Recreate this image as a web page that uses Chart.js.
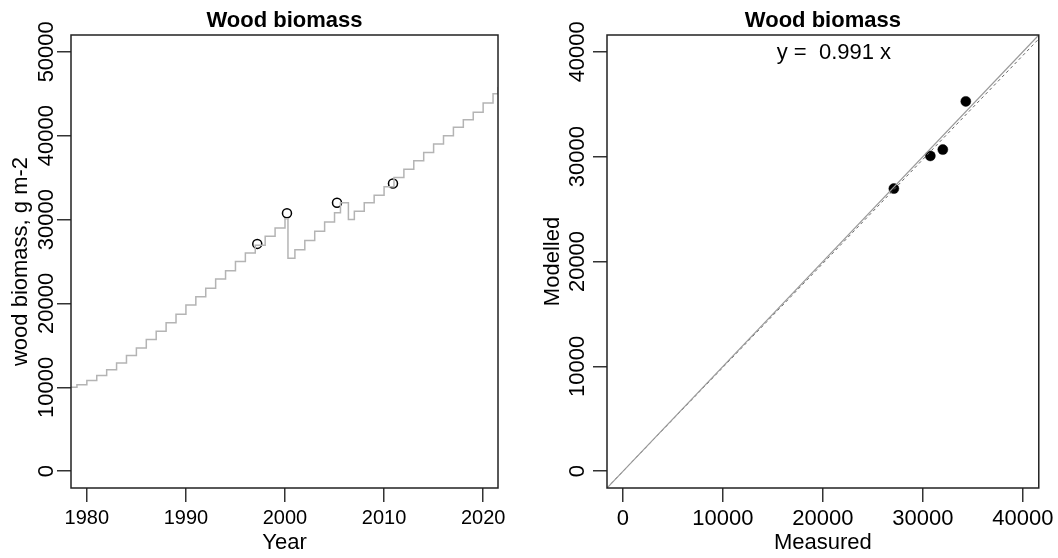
<!DOCTYPE html>
<html>
<head>
<meta charset="utf-8">
<script src="https://cdn.jsdelivr.net/npm/chart.js@4.4.1/dist/chart.umd.min.js"></script>
<style>
  body { margin: 0; background: #fff; }
  #wrap { display: flex; width: 1058px; height: 558px; }
  canvas { display: block; }
</style>
</head>
<body>
<div id="wrap">
  <canvas id="left" width="529" height="558"></canvas>
  <canvas id="right" width="529" height="558"></canvas>
</div>
<script>
'use strict';

// ---- left panel: simulated wood biomass (annual steps) ----
const years = [1978.4, 1979, 1980, 1981, 1982, 1983, 1984, 1985, 1986, 1987,
  1988, 1989, 1990, 1991, 1992, 1993, 1994, 1995, 1996, 1997, 1998, 1999,
  2000, 2000.3, 2001, 2002, 2003, 2004, 2005, 2005.6, 2006.4, 2007, 2008,
  2009, 2010, 2011, 2012, 2013, 2014, 2015, 2016, 2017, 2018, 2019, 2020,
  2021, 2021.5];
const biomass = [10000, 10300, 10800, 11400, 12100, 12900, 13800, 14700, 15700, 16700,
  17700, 18700, 19800, 20800, 21800, 22900, 23900, 25000, 26000, 26950, 28000, 29000,
  30100, 25400, 26400, 27500, 28600, 29700, 30800, 32000, 30000, 31000, 32000,
  32900, 33900, 35000, 36000, 37000, 38000, 39000, 40000, 41000, 41900, 42800, 43900,
  45000, 45800];

// measured biomass (circles) and the modelled value on the same dates
const measYears = [1997.2, 2000.2, 2005.25, 2010.9];
const measured = [27100, 30750, 32000, 34300];
const modelled = [26950, 30070, 30670, 35270];

// fit of modelled vs measured
const slope = 0.991;
const lineEnds = [-1600, 41600];

// tick labels
const yearTicks = [1980, 1990, 2000, 2010, 2020];
const biomassTicks = [0, 10000, 20000, 30000, 40000, 50000];
const scatterTicks = [0, 10000, 20000, 30000, 40000];

Chart.defaults.font.family = '"Liberation Sans", Arial, sans-serif';
Chart.defaults.color = '#000';

const FONT = '"Liberation Sans", Arial, sans-serif';

// R style box, title, rotated y labels and note
const rStyle = {
  id: 'rStyle',
  afterDraw(chart, args, opts) {
    const ctx = chart.ctx;
    const a = chart.chartArea;
    ctx.save();
    ctx.strokeStyle = '#222';
    ctx.lineWidth = 1.5;
    ctx.strokeRect(a.left, a.top, a.right - a.left, a.bottom - a.top);

    ctx.fillStyle = '#000';
    ctx.font = 'bold 22px ' + FONT;
    ctx.textAlign = 'center';
    ctx.textBaseline = 'middle';
    ctx.fillText(opts.title, (a.left + a.right) / 2, 21);

    const ys = chart.scales.y;
    ctx.font = '22px ' + FONT;
    ys.ticks.forEach(t => {
      ctx.save();
      ctx.translate(opts.labelX, ys.getPixelForValue(t.value));
      ctx.rotate(-Math.PI / 2);
      ctx.fillText(String(t.value), 0, 0);
      ctx.restore();
    });

    if (opts.note) {
      ctx.fillText(opts.note, chart.scales.x.getPixelForValue(opts.noteX),
        ys.getPixelForValue(opts.noteY));
    }
    ctx.restore();
  }
};

function tickGrid() {
  return { display: true, drawOnChartArea: false, drawTicks: true, tickLength: 14, color: '#333', lineWidth: 1.5 };
}

function xAxis(min, max, tickList, tickSize, title) {
  return {
    type: 'linear', min: min, max: max,
    afterBuildTicks: s => { s.ticks = tickList.map(v => ({ value: v })); },
    afterFit: s => { s.height = 70; },
    grid: tickGrid(),
    border: { display: false },
    ticks: { font: { size: tickSize }, padding: 4, maxRotation: 0, autoSkip: false, callback: v => String(v) },
    title: { display: true, text: title, font: { size: 22 }, padding: { top: 0, bottom: 2 } }
  };
}

function yAxis(min, max, tickList, width, title, titlePad) {
  return {
    type: 'linear', min: min, max: max,
    afterBuildTicks: s => { s.ticks = tickList.map(v => ({ value: v })); },
    afterFit: s => { s.width = width; },
    grid: tickGrid(),
    border: { display: false },
    ticks: { display: false },
    title: { display: true, text: title, font: { size: 22 }, padding: { top: titlePad, bottom: 0 } }
  };
}

// left chart
new Chart(document.getElementById('left'), {
  type: 'line',
  data: {
    datasets: [{
      data: years.map((x, i) => ({ x: x, y: biomass[i] })),
      stepped: true,
      borderColor: '#b4b4b4',
      borderWidth: 1.5,
      pointRadius: 0,
      fill: false
    }, {
      type: 'scatter',
      data: measYears.map((x, i) => ({ x: x, y: measured[i] })),
      pointRadius: 4.5,
      pointBorderColor: '#000',
      pointBackgroundColor: 'rgba(0,0,0,0)',
      pointBorderWidth: 1.5
    }]
  },
  options: {
    responsive: false, animation: false, devicePixelRatio: 1,
    layout: { padding: { left: 0, right: 31, top: 35, bottom: 0 } },
    plugins: {
      legend: { display: false }, tooltip: { enabled: false },
      rStyle: { title: 'Wood biomass', labelX: 46.7 }
    },
    scales: {
      x: xAxis(1978.4, 2021.5, yearTicks, 20, 'Year'),
      y: yAxis(-2000, 52000, biomassTicks, 71, 'wood biomass, g m-2', 8)
    }
  },
  plugins: [rStyle]
});

// right chart
new Chart(document.getElementById('right'), {
  type: 'scatter',
  data: {
    datasets: [{
      type: 'line',
      data: lineEnds.map(v => ({ x: v, y: v })),
      borderColor: '#9a9a9a',
      borderWidth: 1.2,
      pointRadius: 0
    }, {
      type: 'line',
      data: lineEnds.map(v => ({ x: v, y: slope * v })),
      borderColor: '#666',
      borderWidth: 1,
      borderDash: [3, 3],
      pointRadius: 0
    }, {
      data: measured.map((x, i) => ({ x: x, y: modelled[i] })),
      pointRadius: 5,
      pointBackgroundColor: '#000',
      pointBorderColor: '#000',
      pointBorderWidth: 0.5
    }]
  },
  options: {
    responsive: false, animation: false, devicePixelRatio: 1,
    layout: { padding: { left: 0, right: 17, top: 35, bottom: 0 } },
    plugins: {
      legend: { display: false }, tooltip: { enabled: false },
      rStyle: { title: 'Wood biomass', labelX: 49, note: 'y =  0.991 x', noteX: 21100, noteY: 39900 }
    },
    scales: {
      x: xAxis(-1600, 41600, scatterTicks, 22, 'Measured'),
      y: yAxis(-1600, 41600, scatterTicks, 78, 'Modelled', 11)
    }
  },
  plugins: [rStyle]
});
</script>
</body>
</html>
